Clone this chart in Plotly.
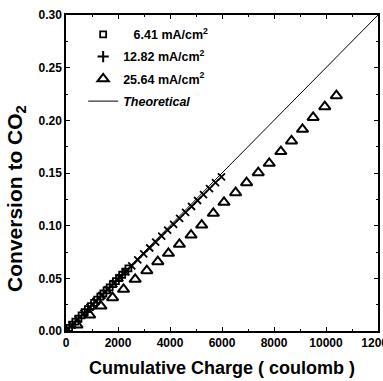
import plotly.graph_objects as go

# 6.41 mA/cm2
q_641 = [0, 120, 240, 360, 480, 600, 720, 840, 960, 1080, 1200, 1320, 1440,
         1560, 1680, 1800, 1920, 2040, 2160, 2280, 2400]
c_641 = [0.0, 0.0030, 0.0060, 0.0089, 0.0118, 0.0148, 0.0178, 0.0207, 0.0237,
         0.0267, 0.0297, 0.0326, 0.0356, 0.0385, 0.0415, 0.0445, 0.0474, 0.0503,
         0.0534, 0.0563, 0.0595]

# 12.82 mA/cm2
q_1282 = [0, 230, 460, 690, 920, 1150, 1380, 1610, 1840, 2070, 2300, 2530, 2760,
          2990, 3220, 3450, 3680, 3910, 4140, 4370, 4600, 4830, 5060, 5290, 5520,
          5750, 5980]
c_1282 = [0.0, 0.0055, 0.0112, 0.0168, 0.0224, 0.0281, 0.0337, 0.0393, 0.0450,
          0.0506, 0.0562, 0.0619, 0.0675, 0.0732, 0.0788, 0.0844, 0.0901, 0.0957,
          0.1013, 0.1070, 0.1126, 0.1182, 0.1239, 0.1295, 0.1351, 0.1408, 0.1464]

# 25.64 mA/cm2
q_2564 = [0, 422, 908, 1343, 1791, 2213, 2661, 3109, 3531, 3940, 4362, 4810,
          5219, 5667, 6077, 6524, 6946, 7394, 7816, 8264, 8673, 9096, 9505,
          9953, 10400]
c_2564 = [0.0, 0.0057, 0.0152, 0.0237, 0.0316, 0.0396, 0.0491, 0.0573, 0.0658,
          0.0737, 0.0823, 0.0911, 0.1006, 0.1117, 0.1222, 0.1313, 0.1408,
          0.1503, 0.1592, 0.1703, 0.1804, 0.1915, 0.2028, 0.2130, 0.2234]

# Theoretical
q_theo = [0, 12000]
c_theo = [0.0, 0.30]

FONT = "Liberation Sans, Arial, sans-serif"

fig = go.Figure()
fig.add_trace(go.Scatter(x=q_641, y=c_641, mode="markers", legendgroup="a",
                         name="\u2007 6.41 mA/cm<sup>2</sup>",
                         marker=dict(symbol="square-open", size=6, color="black",
                                     line=dict(width=1.8, color="black"))))
fig.add_trace(go.Scatter(x=q_1282, y=c_1282, mode="markers", showlegend=False,
                         legendgroup="b",
                         marker=dict(symbol="x-thin", size=7, color="black",
                                     line=dict(width=1.8, color="black"))))
fig.add_trace(go.Scatter(x=[None], y=[None], mode="markers", legendgroup="b",
                         name="12.82 mA/cm<sup>2</sup>",
                         marker=dict(symbol="cross-thin", size=8, color="black",
                                     line=dict(width=2, color="black"))))
fig.add_trace(go.Scatter(x=q_2564, y=c_2564, mode="markers", legendgroup="c",
                         name="25.64 mA/cm<sup>2</sup>",
                         marker=dict(symbol="triangle-up-open", size=10, color="black",
                                     line=dict(width=2, color="black"))))
fig.add_trace(go.Scatter(x=q_theo, y=c_theo, mode="lines", name="<i>Theoretical</i>",
                         legendgroup="d",
                         line=dict(color="black", width=1)))

axis_common = dict(showline=True, linecolor="black", linewidth=1.5, mirror="ticks",
                   ticks="inside", ticklen=4, tickwidth=1.2, tickcolor="black",
                   showgrid=False, zeroline=False, ticklabeloverflow="allow",
                   automargin=False,
                   tickfont=dict(family=FONT, size=12, color="black", weight="bold"))

fig.update_xaxes(range=[0, 12000], dtick=2000, tick0=0, tickformat="d",
                 minor=dict(dtick=1000, ticks="inside", ticklen=2, tickcolor="black"),
                 title=dict(text="Cumulative Charge ( coulomb )",
                            font=dict(family=FONT, size=18, color="black", weight="bold"),
                            standoff=12),
                 **axis_common)
fig.update_yaxes(range=[0, 0.30], dtick=0.05, tick0=0, tickformat=".2f",
                 minor=dict(dtick=0.025, ticks="inside", ticklen=2, tickcolor="black"),
                 **axis_common)

fig.add_annotation(text="Conversion to CO<sub>2</sub>", textangle=-90,
                   xref="paper", yref="paper", x=0, y=0.418,
                   xanchor="center", yanchor="middle", xshift=-50, showarrow=False,
                   font=dict(family=FONT, size=21, color="black", weight="bold"))

fig.update_layout(
    width=383, height=381,
    margin=dict(l=66, r=5, t=15, b=50),
    paper_bgcolor="white", plot_bgcolor="white",
    showlegend=True,
    legend=dict(x=0.055, y=0.985, xanchor="left", yanchor="top",
                bgcolor="rgba(0,0,0,0)", tracegroupgap=3, itemwidth=30,
                font=dict(family=FONT, size=12.5, color="black", weight="bold")),
)

fig.write_html("out.html")
